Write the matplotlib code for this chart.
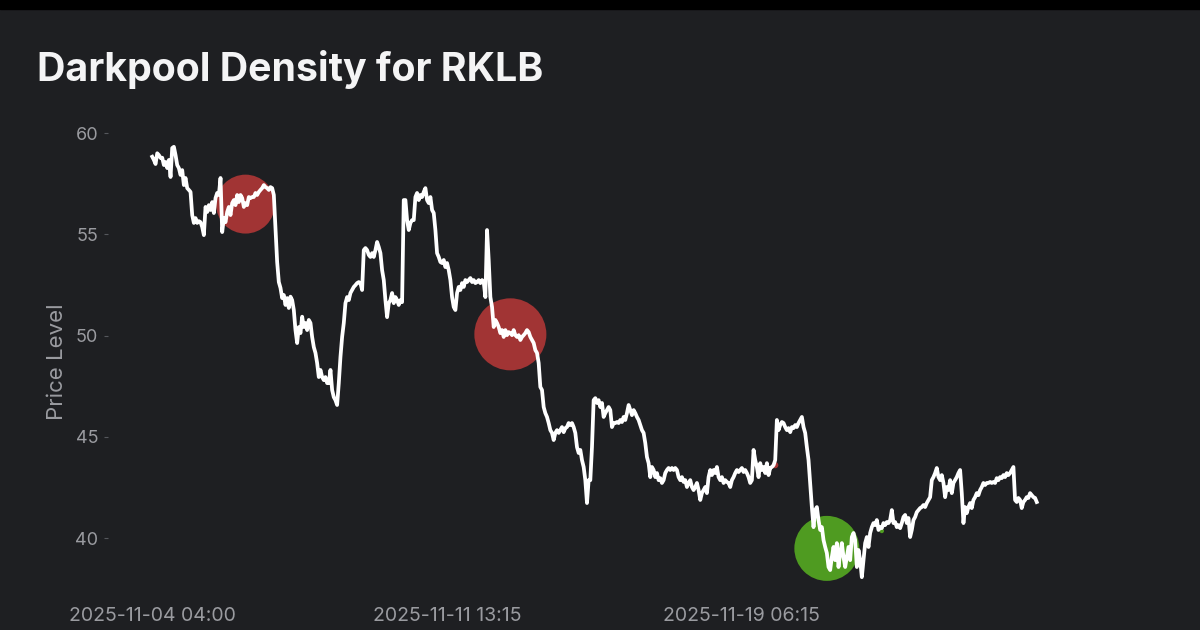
import matplotlib
matplotlib.use("Agg")
import matplotlib.pyplot as plt
import numpy as np

# RKLB closes, one value every second 15-min bar (04:00-20:00 sessions)
price = [
    58.83, 58.67, 58.47, 59.00, 58.91, 58.77, 58.78, 58.42, 58.57, 58.27,
    58.67, 57.83, 59.26, 59.32, 58.91, 58.42, 58.27, 57.93, 58.17, 57.43,
    57.78, 57.28, 57.19, 57.09, 55.95, 55.56, 55.80, 55.56, 55.65, 55.60,
    55.36, 54.96, 56.35, 56.10, 56.44, 56.20, 56.59, 56.05, 56.79, 57.04,
    56.94, 57.78, 55.11, 55.80, 55.60, 56.10, 56.35, 55.95, 56.54, 56.69,
    56.44, 56.94, 56.59, 56.94, 56.79, 56.35, 56.54, 56.44, 56.84, 56.79,
    56.84, 56.84, 57.04, 56.94, 57.09, 57.19, 57.28, 57.43, 57.33, 57.28,
    57.19, 57.33, 57.28, 56.94, 55.31, 53.63, 52.64, 52.35, 51.85, 52.00,
    51.51, 51.85, 51.36,
    51.92, 51.75, 51.26, 50.27, 49.63, 50.42, 50.12, 50.93, 50.42, 50.62,
    50.27, 50.77, 50.62, 49.93, 49.43, 49.14, 48.64, 47.95, 48.30, 47.95,
    47.80, 47.95, 47.65, 47.65, 48.30, 47.31, 46.96, 46.81, 46.57, 47.65,
    48.94, 49.93, 50.62, 51.60, 51.90, 51.75, 52.10, 52.25, 52.40, 52.49,
    52.59, 52.64, 52.59, 52.25, 54.22, 54.32, 54.22, 53.98, 53.88, 54.07,
    53.88, 54.22, 54.62, 54.37, 54.07, 53.23, 52.74, 51.75, 50.91, 51.60,
    51.75, 52.10, 51.60, 51.90, 51.75, 51.51, 51.75, 51.65, 56.69, 56.69,
    55.70, 55.21, 55.56, 55.70, 55.70, 56.84, 57.04, 56.69, 56.94, 56.84,
    57.09, 57.28, 56.69, 56.54, 56.84, 56.20, 56.05, 55.21, 54.07, 53.88,
    53.63, 53.58, 53.73, 53.38, 53.58, 53.23, 52.74, 51.90, 51.41, 51.26,
    52.10, 52.40, 52.25, 52.59, 52.40, 52.74, 52.64, 52.74, 52.84, 52.64,
    52.74, 52.59, 52.64, 52.74, 52.59, 52.74, 52.64, 51.90, 55.21, 53.73,
    51.90, 51.41, 50.42, 50.77, 50.62, 50.42, 50.12, 50.27, 49.93, 50.27,
    50.02, 50.17, 50.12, 50.02, 50.27, 50.02, 49.93, 50.02, 49.78, 49.93,
    50.02, 50.12, 50.27, 50.17, 49.93, 49.78, 49.63, 49.28, 49.14, 48.64,
    47.46, 47.31, 46.47, 46.17, 45.98, 45.68, 45.33, 45.19, 44.84, 45.19,
    45.33, 45.19, 45.33, 45.48, 45.23, 45.43, 45.48, 45.68, 45.58, 45.68,
    45.48, 45.19, 44.49, 44.20, 44.35, 43.85, 43.51, 42.86, 41.73, 42.86,
    42.86, 44.49, 46.81, 46.91, 46.67, 46.81, 46.47, 46.67, 45.98, 46.17,
    46.32, 46.47, 46.32, 45.48, 45.68, 45.68, 45.73, 45.68, 45.83, 45.73,
    45.98, 45.83, 46.17, 46.57, 46.32, 46.07, 46.32, 46.17, 45.98, 45.83,
    45.58, 45.33, 45.19, 44.69, 44.00, 43.70, 43.01, 43.51, 43.36, 43.01,
    43.21, 42.86, 42.96, 42.72, 42.86, 43.21, 43.36, 43.46, 43.36, 43.46,
    43.36, 43.46, 43.36, 43.01, 42.86, 43.01, 42.77, 42.86, 42.52, 42.72,
    42.86, 42.52, 42.37, 42.52, 42.72, 42.37, 41.88, 42.22, 42.37, 42.52,
    42.22, 43.01, 43.36, 43.11, 43.36, 43.21, 43.51, 43.01, 42.86, 43.01,
    42.72, 42.86, 42.77, 42.72, 42.52, 42.86, 43.01, 43.21, 43.36, 43.26,
    43.36, 43.46, 43.26, 43.36, 43.21, 43.01, 42.72, 42.86, 44.35, 43.85,
    43.51, 43.01, 43.70, 43.36, 43.51, 43.21, 43.70, 43.11, 43.46, 43.51,
    43.60, 43.85, 45.83, 45.33, 45.58, 45.73, 45.68, 45.48, 45.33, 45.43,
    45.23, 45.48, 45.43, 45.58, 45.48, 45.68, 45.83, 45.98, 45.48, 45.19,
    44.49, 43.85, 42.72, 41.53, 40.54, 41.38, 41.53, 40.89, 40.40, 40.54,
    39.90, 39.56, 39.26, 38.57, 38.42, 39.06, 39.56, 38.91, 39.75, 38.57,
    39.26, 39.75, 39.06, 38.57, 39.06, 39.56, 38.91, 40.05, 40.25, 39.90,
    38.57, 39.41, 38.91, 38.07, 38.91, 39.75, 40.05, 39.56, 40.25, 40.54,
    40.74, 40.64, 40.89, 40.40, 40.54, 40.49, 40.74, 40.64, 40.79, 40.74,
    40.89, 41.38, 40.74, 40.79, 40.54, 40.64, 40.49, 40.74, 41.04, 41.14,
    40.74, 40.99, 40.05, 40.40, 40.89, 41.04, 41.28, 41.38, 41.48, 41.53,
    41.63, 41.53, 41.73, 41.88, 42.02, 42.86, 43.01, 43.21, 43.46, 43.01,
    42.86, 43.11, 42.72, 42.02, 42.52, 42.37, 42.86, 42.22, 42.72, 42.86,
    43.01, 43.21, 43.36, 42.22, 40.74, 41.53, 41.23, 41.53, 41.73, 41.48,
    41.88, 42.02, 42.22, 42.12, 42.37, 42.52, 42.72, 42.62, 42.72, 42.72,
    42.77, 42.72, 42.77, 42.72, 42.96, 42.86, 43.01, 42.96, 43.11, 43.01,
    43.21, 43.11, 43.21, 43.36, 43.51, 41.88, 41.78, 41.98, 41.88, 41.48,
    41.78, 41.88, 42.02, 41.98, 42.22, 42.12, 42.02, 41.98, 41.78,
]

tick_pos = [0, 177, 354]
tick_labels = ["2025-11-04 04:00", "2025-11-11 13:15", "2025-11-19 06:15"]

# darkpool prints: sample position, price level, density, side
dp_pos = [56, 215, 405, 374, 438]
dp_price = [56.49, 50.06, 39.49, 43.60, 40.35]
dp_density = [1800, 2690, 2190, 20, 10]
dp_side = ["sell", "sell", "buy", "sell", "buy"]

BG = "#1e1f22"
GREY = "#9a9ba0"
plt.rcParams['font.family'] = ['Inter', 'DejaVu Sans']

fig = plt.figure(figsize=(12, 6.3), dpi=100, facecolor=BG)
# black strip along the top edge
fig.patches.append(plt.Rectangle((0, 1 - 9 / 630), 1, 9 / 630,
                                 transform=fig.transFigure, color='black'))

ax = fig.add_axes([0.09, 0.0495, 0.8108, 0.7522])
ax.set_facecolor(BG)

x = np.arange(len(price))
colors = ['#a13434' if s == 'sell' else '#4f9b21' for s in dp_side]
ax.scatter(dp_pos, dp_price, s=dp_density, c=colors, linewidths=0, zorder=2)
ax.plot(x, price, color='white', lw=2.7, zorder=3)

ax.margins(x=0.05)
ax.set_ylim(37.0, 60.4)
ax.set_yticks([40, 45, 50, 55, 60])
ax.set_xticks(tick_pos)
ax.set_xticklabels(tick_labels)

for s in ax.spines.values():
    s.set_visible(False)
ax.tick_params(axis='y', colors=GREY, labelsize=13, length=3, width=0.8, pad=4)
ax.tick_params(axis='y', color='#55575c')
ax.tick_params(axis='x', colors=GREY, labelsize=14, length=0, pad=6)
ax.set_ylabel('Price Level', color=GREY, fontsize=16, labelpad=6)

fig.text(37 / 1200, 1 - 81 / 630, 'Darkpool Density for RKLB', color='#f4f4f5',
         fontsize=28.3, fontweight='bold', va='baseline', ha='left')

fig.savefig('out.png', dpi=100, facecolor=BG)
